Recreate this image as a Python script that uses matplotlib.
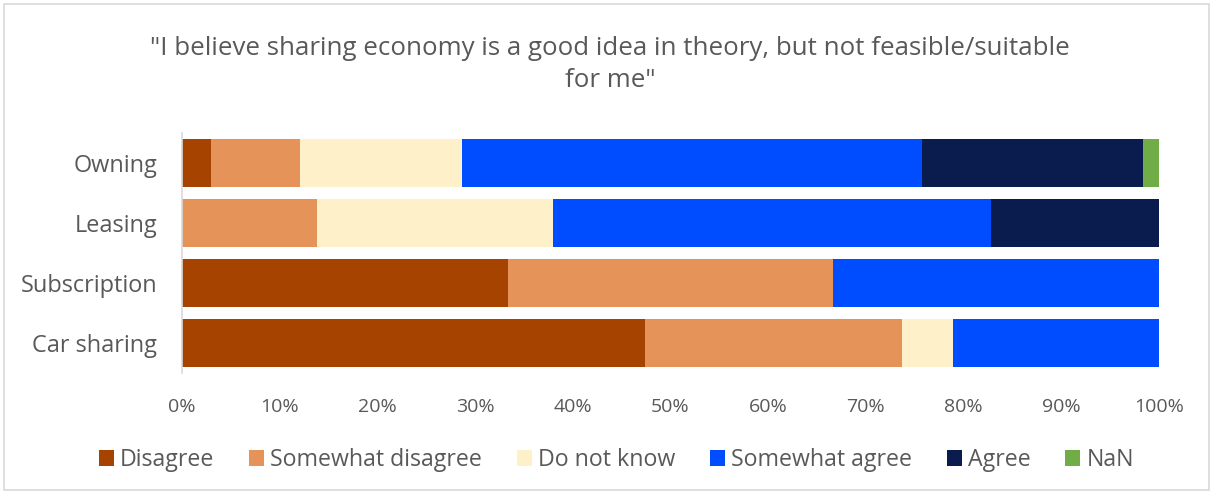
import matplotlib
matplotlib.use("Agg")
import matplotlib.pyplot as plt
from matplotlib.patches import Rectangle

categories = ["Owning", "Leasing", "Subscription", "Car sharing"]
responses = ["Disagree", "Somewhat disagree", "Do not know",
             "Somewhat agree", "Agree", "NaN"]

# share of respondents per answer (%), one list per answer, ordered as categories
disagree = [3.0, 0.0, 33.33, 47.37]
somewhat_disagree = [9.1, 13.79, 33.33, 26.32]
do_not_know = [16.6, 24.14, 0.0, 5.26]
somewhat_agree = [47.0, 44.83, 33.34, 21.05]
agree = [22.7, 17.24, 0.0, 0.0]
nan_share = [1.6, 0.0, 0.0, 0.0]

series = [disagree, somewhat_disagree, do_not_know, somewhat_agree, agree, nan_share]
colors = ["#A64300", "#E6935A", "#FEF0C9", "#004CFF", "#0A1C4E", "#70AD47"]

xticks = [0, 10, 20, 30, 40, 50, 60, 70, 80, 90, 100]
xtick_labels = [f"{v}%" for v in xticks]

title = '"I believe sharing economy is a good idea in theory, but not feasible/suitable\nfor me"'

plt.rcParams["font.family"] = ["Open Sans", "DejaVu Sans"]
text_color = "#595959"

fig = plt.figure(figsize=(12.13, 4.94), dpi=100)
ax = fig.add_axes([0.150, 0.2449, 0.8055, 0.4859])

ypos = list(range(len(categories)))
left = [0.0] * len(categories)
for name, vals, col in zip(responses, series, colors):
    ax.barh(ypos, vals, left=left, height=0.8, color=col, label=name,
            edgecolor="none")
    left = [l + v for l, v in zip(left, vals)]

ax.set_xlim(0, 100)
ax.set_ylim(len(categories) - 0.5, -0.5)
ax.set_yticks(ypos)
ax.set_yticklabels(categories, fontsize=16.9, color=text_color)
ax.set_xticks(xticks)
ax.set_xticklabels(xtick_labels, fontsize=14, color=text_color)
ax.tick_params(axis="both", length=0)
ax.tick_params(axis="y", pad=18)
ax.tick_params(axis="x", pad=18)
for s in ["top", "right", "bottom"]:
    ax.spines[s].set_visible(False)
ax.spines["left"].set_color("#D9D9D9")
ax.spines["left"].set_linewidth(1.2)

fig.text(0.503, 0.927, title, ha="center", va="top", fontsize=18.6,
         color=text_color, linespacing=1.36)

leg = fig.legend(loc="center", bbox_to_anchor=(0.508, 0.069), ncol=6,
                 frameon=False, fontsize=16.7, handlelength=0.65,
                 handleheight=0.65, handletextpad=0.26, columnspacing=1.5)
for t in leg.get_texts():
    t.set_color(text_color)

# outer chart frame
fig.patches.append(Rectangle((4 / 1213, 4 / 494), 1205 / 1213, 486 / 494,
                             transform=fig.transFigure, fill=False,
                             edgecolor="#D9D9D9", linewidth=1.2))

fig.savefig("out.png", dpi=100)
